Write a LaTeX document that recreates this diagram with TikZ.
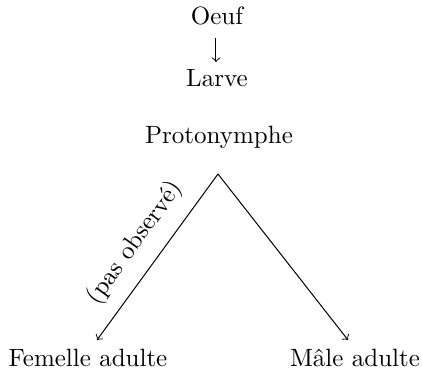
\documentclass[tikz,border=0pt]{standalone}
\begin{document}
\begin{tikzpicture}[x=0.4pt,y=-0.4pt,
  lbl/.style={inner sep=0pt,anchor=base},
  conn/.style={->,line width=0.4pt}]
\useasboundingbox (0,0) rectangle (422,374);
\node[lbl] (oeuf) at (217,24) {Oeuf};
\node[lbl] (larve) at (217,86) {Larve};
\node[lbl] (proto) at (219,143) {Protonymphe};
\node[lbl] (fem) at (88,366) {Femelle adulte};
\node[lbl] (male) at (355,366) {Mâle adulte};
\coordinate (apex) at (218,174);
\coordinate (lend) at (97,340);
\coordinate (rend) at (348,340);
\draw[conn] (216,38) -- (216,62);
\draw[conn] (apex) -- (lend);
\draw[conn] (apex) -- (rend);
\node[inner sep=0pt,rotate=54] (pas) at (135,243) {(pas observé)};
\end{tikzpicture}
\end{document}
